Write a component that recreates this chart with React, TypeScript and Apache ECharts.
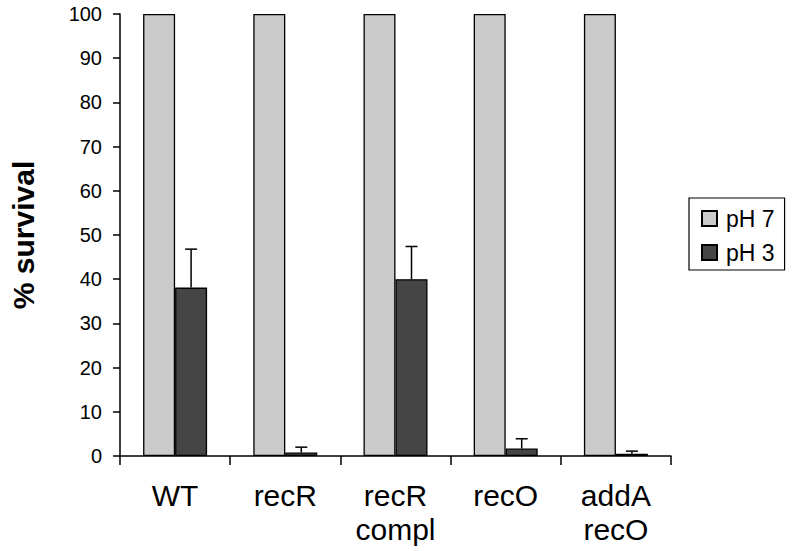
import React, { useEffect, useRef } from "react";
import * as echarts from "echarts";

const categories = ["WT", "recR", "recR\ncompl", "recO", "addA\nrecO"];
const ph7Values = [100, 100, 100, 100, 100];
const ph3Values = [38.1, 0.8, 40.0, 1.7, 0.5];
const ph3ErrorTop = [46.8, 2.0, 47.4, 3.9, 1.1];
const yTicks = { min: 0, max: 100, interval: 10 };

const BAR_W = 32;

export default function App() {
  const ref = useRef<HTMLDivElement>(null);
  useEffect(() => {
    if (!ref.current) return;
    const chart = echarts.init(ref.current, null, { renderer: "svg" });
    const font = "Liberation Sans, Arial, Helvetica, sans-serif";
    chart.setOption({
      animation: false,
      backgroundColor: "#ffffff",
      textStyle: { fontFamily: font, color: "#000" },
      grid: { left: 113, right: 129, top: 14, bottom: 95 },
      legend: {
        data: ["pH 7", "pH 3"],
        orient: "vertical",
        left: 689,
        top: 198,
        width: 104,
        padding: [9, 10, 6, 12],
        itemGap: 11,
        itemWidth: 15,
        itemHeight: 15,
        icon: "rect",
        borderColor: "#000",
        borderWidth: 1.2,
        textStyle: { fontSize: 23, color: "#000", fontFamily: font, padding: [0, 0, 0, 4] },
        selectedMode: false,
      },
      xAxis: {
        type: "category",
        data: categories,
        axisLine: { lineStyle: { color: "#000", width: 1.5 } },
        axisTick: { show: true, length: 9, lineStyle: { color: "#000", width: 1.5 } },
        axisLabel: {
          fontSize: 30,
          lineHeight: 34,
          color: "#000",
          margin: 22,
          fontFamily: font,
          interval: 0,
        },
        splitLine: { show: false },
      },
      yAxis: {
        type: "value",
        min: yTicks.min,
        max: yTicks.max,
        interval: yTicks.interval,
        name: "% survival",
        nameLocation: "middle",
        nameRotate: 90,
        nameGap: 82,
        nameTextStyle: { fontSize: 30, fontWeight: "bold", color: "#000", fontFamily: font },
        axisLine: { show: true, lineStyle: { color: "#000", width: 1.5 } },
        axisTick: { show: true, length: 7, lineStyle: { color: "#000", width: 1.5 } },
        axisLabel: { fontSize: 20, color: "#000", margin: 18, fontFamily: font },
        splitLine: { show: false },
      },
      series: [
        {
          name: "pH 7",
          type: "bar",
          data: ph7Values,
          barWidth: BAR_W,
          barGap: "0%",
          itemStyle: { color: "#cbcbcb", borderColor: "#000", borderWidth: 1.3 },
        },
        {
          name: "pH 3",
          type: "bar",
          data: ph3Values,
          barWidth: BAR_W,
          barGap: "0%",
          itemStyle: { color: "#454545", borderColor: "#000", borderWidth: 1.3 },
        },
        {
          name: "error",
          type: "custom",
          data: categories.map((_, i) => [i, ph3Values[i], ph3ErrorTop[i]]),
          z: 5,
          renderItem: (params: any, api: any) => {
            const idx = api.value(0);
            const base = api.coord([idx, api.value(1)]);
            const top = api.coord([idx, api.value(2)]);
            const x = base[0] + BAR_W / 2;
            const half = 6;
            const style = { stroke: "#000", lineWidth: 1.5 };
            return {
              type: "group",
              children: [
                { type: "line", shape: { x1: x, y1: base[1], x2: x, y2: top[1] }, style },
                { type: "line", shape: { x1: x - half, y1: top[1], x2: x + half, y2: top[1] }, style },
              ],
            };
          },
        },
      ],
    });
    return () => chart.dispose();
  }, []);
  return (
    <div
      ref={ref}
      style={{ position: "fixed", left: 0, top: 0, width: 800, height: 551 }}
    />
  );
}
